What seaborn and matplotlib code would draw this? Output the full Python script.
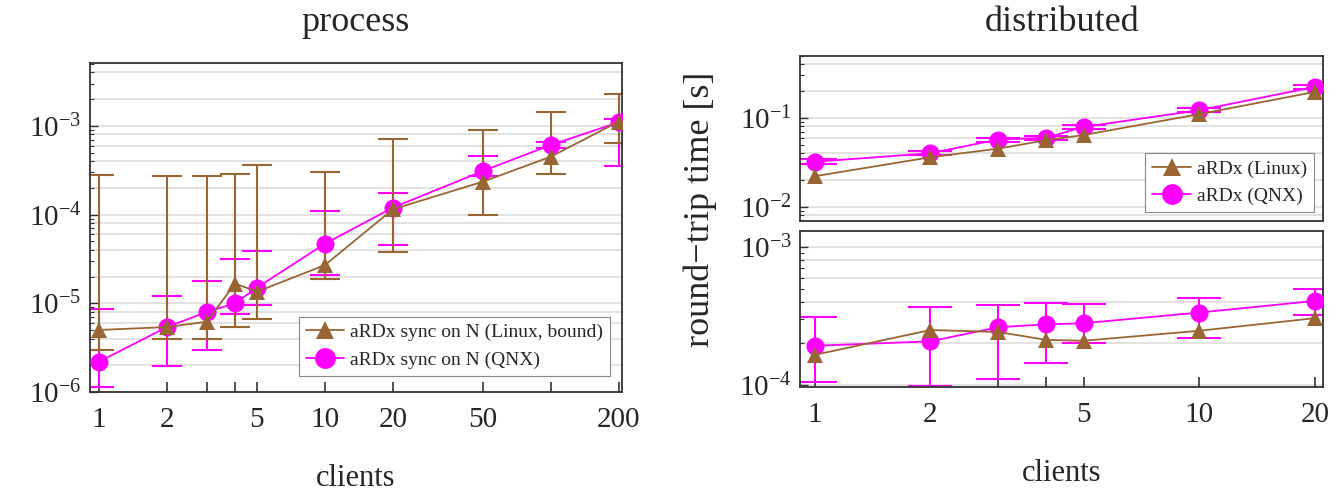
import numpy as np
import pandas as pd
import matplotlib
matplotlib.use("Agg")
import matplotlib.pyplot as plt
import matplotlib.ticker as mticker
from matplotlib.lines import Line2D
import seaborn as sns

# values
proc_clients = [1, 2, 3, 4, 5, 10, 20, 50, 100, 200]
proc_linux = [5.0e-6, 5.4e-6, 6.2e-6, 1.67e-5, 1.35e-5, 2.7e-5, 1.15e-4, 2.35e-4, 4.5e-4, 1.12e-3]
proc_linux_lo = [2.95e-6, 4.0e-6, 4.0e-6, 5.4e-6, 6.7e-6, 1.9e-5, 3.8e-5, 1.0e-4, 2.85e-4, 6.4e-4]
proc_linux_hi = [2.8e-4, 2.75e-4, 2.75e-4, 2.87e-4, 3.6e-4, 3.05e-4, 7.2e-4, 9.0e-4, 1.43e-3, 2.28e-3]
proc_qnx = [2.2e-6, 5.4e-6, 8.0e-6, 1.0e-5, 1.5e-5, 4.7e-5, 1.2e-4, 3.1e-4, 6.1e-4, 1.1e-3]
proc_qnx_lo = [1.15e-6, 1.95e-6, 3.0e-6, 7.6e-6, 9.5e-6, 2.1e-5, 4.5e-5, 2.7e-4, 5.7e-4, 3.5e-4]
proc_qnx_hi = [8.7e-6, 1.2e-5, 1.8e-5, 3.15e-5, 3.9e-5, 1.1e-4, 1.76e-4, 4.6e-4, 6.5e-4, 1.19e-3]
proc_ticklabels = [1, 2, 5, 10, 20, 50, 200]

dist_clients = [1, 2, 3, 4, 5, 10, 20]
dist_linux = [0.022, 0.036, 0.045, 0.056, 0.064, 0.11, 0.196]
dist_qnx = [0.032, 0.040, 0.057, 0.0596, 0.079, 0.122, 0.223]
dist_qnx_lo = [0.0305, 0.0385, 0.054, 0.057, 0.075, 0.116, 0.212]
dist_qnx_hi = [0.034, 0.042, 0.060, 0.062, 0.083, 0.128, 0.234]

dist_linux_b = [1.65e-4, 2.5e-4, 2.42e-4, 2.12e-4, 2.09e-4, 2.47e-4, 3.05e-4]
dist_qnx_b = [1.92e-4, 2.07e-4, 2.62e-4, 2.75e-4, 2.8e-4, 3.35e-4, 4.07e-4]
dist_qnx_b_lo = [1.05e-4, 0.98e-4, 1.1e-4, 1.45e-4, 2.0e-4, 2.18e-4, 3.2e-4]
dist_qnx_b_hi = [3.13e-4, 3.7e-4, 3.77e-4, 3.9e-4, 3.87e-4, 4.3e-4, 5.0e-4]
dist_ticklabels = [1, 2, 5, 10, 20]

BROWN = "#996633"
MAGENTA = "#ff00ff"

sns.set_style("ticks")
plt.rcParams["font.family"] = ["Liberation Serif", "DejaVu Serif"]
plt.rcParams["mathtext.fontset"] = "custom"
plt.rcParams["mathtext.rm"] = "Liberation Serif"
plt.rcParams["mathtext.it"] = "Liberation Serif:italic"
plt.rcParams["axes.edgecolor"] = "#333333"
plt.rcParams["axes.linewidth"] = 1.3

fig = plt.figure(figsize=(13.36, 4.96), dpi=100)
ax_p = fig.add_axes([0.0674, 0.2097, 0.398, 0.663])
ax_t = fig.add_axes([0.599, 0.5544, 0.3915, 0.3333])
ax_b = fig.add_axes([0.599, 0.2204, 0.3915, 0.314])


def draw_series(ax, x, y, lo, hi, color, marker, ms, cap, label):
    if lo is not None:
        y = np.asarray(y)
        err = [y - np.asarray(lo), np.asarray(hi) - y]
        ax.errorbar(x, y, yerr=err, fmt="none", ecolor=color, elinewidth=1.5,
                    capsize=cap, capthick=1.5, zorder=2)
    df = pd.DataFrame({"clients": x, "time": y})
    sns.lineplot(data=df, x="clients", y="time", ax=ax, color=color, marker=marker,
                 markersize=ms, markeredgewidth=0, linewidth=1.3, label=label,
                 legend=False, zorder=3)


def style_log_axis(ax, xlim, ylim, ticks, ticklabels, show_x=True):
    ax.set_xscale("log")
    ax.set_yscale("log")
    ax.set_xlim(*xlim)
    ax.set_ylim(*ylim)
    ax.xaxis.set_major_locator(mticker.FixedLocator(ticks))
    ax.xaxis.set_minor_locator(mticker.NullLocator())
    ax.yaxis.set_major_locator(mticker.LogLocator(base=10, numticks=20))
    ax.yaxis.set_minor_locator(mticker.LogLocator(base=10, subs=np.arange(2, 10), numticks=20))
    ax.yaxis.set_minor_formatter(mticker.NullFormatter())
    ax.tick_params(axis="both", which="both", direction="in", color="#333333")
    ax.tick_params(axis="x", which="major", length=7, width=1.2, pad=11, labelsize=21)
    ax.tick_params(axis="y", which="major", length=6, width=1.0, pad=6, labelsize=21)
    ax.tick_params(axis="y", which="minor", length=3, width=0.8)
    if show_x:
        ax.xaxis.set_major_formatter(mticker.FixedFormatter(
            [str(t) if t in ticklabels else "" for t in ticks]))
    else:
        ax.xaxis.set_major_formatter(mticker.NullFormatter())
        ax.tick_params(axis="x", which="both", length=0)
    # light horizontal grid
    lo_dec = int(np.floor(np.log10(ylim[0]))) - 1
    hi_dec = int(np.ceil(np.log10(ylim[1]))) + 1
    for d in range(lo_dec, hi_dec):
        for k in (1, 2, 4, 6, 8):
            v = k * 10.0 ** d
            if ylim[0] < v < ylim[1]:
                ax.axhline(v, color="#dddddd", linewidth=1.2, zorder=0)
    ax.set_xlabel("")
    ax.set_ylabel("")


# process
draw_series(ax_p, proc_clients, proc_qnx, proc_qnx_lo, proc_qnx_hi, MAGENTA, "o", 13, 11,
            "aRDx sync on N (QNX)")
draw_series(ax_p, proc_clients, proc_linux, proc_linux_lo, proc_linux_hi, BROWN, "^", 11, 11,
            "aRDx sync on N (Linux, bound)")
style_log_axis(ax_p, (0.912, 206), (1e-6, 5.1e-3), proc_clients, proc_ticklabels)
ax_p.set_xlabel("clients", fontsize=22, labelpad=22)

# distributed, upper part
draw_series(ax_t, dist_clients, dist_qnx, dist_qnx_lo, dist_qnx_hi, MAGENTA, "o", 13, 16,
            "aRDx (QNX)")
draw_series(ax_t, dist_clients, dist_linux, None, None, BROWN, "^", 11, 16, "aRDx (Linux)")
style_log_axis(ax_t, (0.918, 21.0), (6.9e-3, 0.5), dist_clients, dist_ticklabels, show_x=False)

# distributed, lower part
draw_series(ax_b, dist_clients, dist_qnx_b, dist_qnx_b_lo, dist_qnx_b_hi, MAGENTA, "o", 13, 16,
            "aRDx (QNX)")
draw_series(ax_b, dist_clients, dist_linux_b, None, None, BROWN, "^", 11, 16, "aRDx (Linux)")
style_log_axis(ax_b, (0.918, 21.0), (0.97e-4, 1.31e-3), dist_clients, dist_ticklabels)
ax_b.set_xlabel("clients", fontsize=22, labelpad=22)

# titles sit at the same height above both panels
fig.text(0.2664, 1 - 31 / 496, "process", fontsize=26, ha="center", va="baseline")
fig.text(0.7948, 1 - 31 / 496, "distributed", fontsize=26, ha="center", va="baseline")
fig.text(0.524, 0.577, "round\u2212trip time [s]", rotation=90, fontsize=26,
         ha="center", va="center")


def make_legend(ax, labels, loc, anchor):
    handles = [
        Line2D([], [], color=BROWN, marker="^", markersize=13, markeredgewidth=0, linewidth=1.3),
        Line2D([], [], color=MAGENTA, marker="o", markersize=15, markeredgewidth=0, linewidth=1.3),
    ]
    leg = ax.legend(handles, labels, loc=loc, bbox_to_anchor=anchor, fontsize=14,
                    frameon=True, fancybox=False, edgecolor="#888888", framealpha=1,
                    handlelength=2.0, handletextpad=0.3, borderpad=0.35, labelspacing=0.5,
                    borderaxespad=0)
    leg.get_frame().set_linewidth(0.8)
    return leg


make_legend(ax_p, ["aRDx sync on N (Linux, bound)", "aRDx sync on N (QNX)"],
            "lower right", (0.978, 0.05))
make_legend(ax_t, ["aRDx (Linux)", "aRDx (QNX)"], "lower right", (0.982, 0.055))

fig.savefig("out.png", dpi=100)
